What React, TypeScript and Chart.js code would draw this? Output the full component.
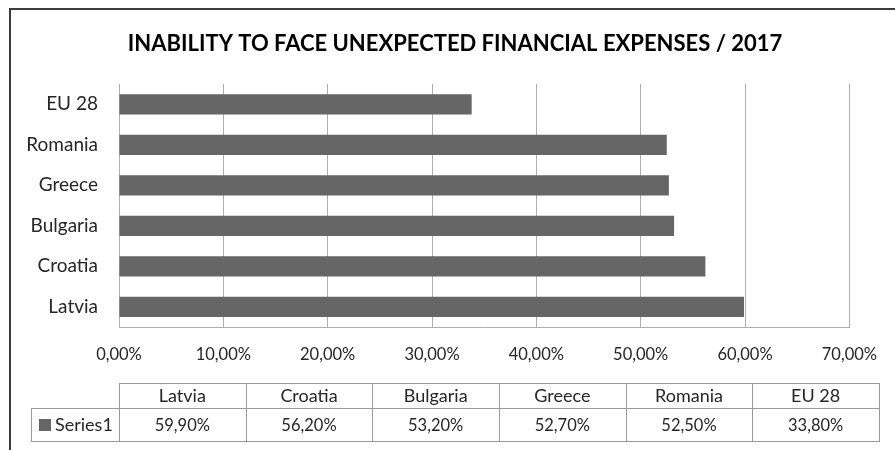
import React, { useEffect, useRef } from "react";
import { Chart, registerables } from "chart.js";

Chart.register(...registerables);

const categories = ["Latvia", "Croatia", "Bulgaria", "Greece", "Romania", "EU 28"];
const series1 = [59.9, 56.2, 53.2, 52.7, 52.5, 33.8];
const seriesName = "Series1";
const titleText = "INABILITY TO FACE UNEXPECTED FINANCIAL EXPENSES / 2017";
const axisMin = 0;
const axisMax = 70;
const axisStep = 10;

const FONT = "Lato, 'Open Sans', sans-serif";
const BAR = "#666666";
const GRID = "#aeaeae";
const TABLE_LINE = "#999999";
const TEXT = "#262626";

const fmt = (v: number) => v.toFixed(2).replace(".", ",") + "%";

const decorPlugin = {
  id: "decor",
  beforeDraw(chart: any) {
    const ctx = chart.ctx;
    ctx.save();
    ctx.fillStyle = "#3c3c3c";
    ctx.fillRect(9, 8, chart.width - 9, 2);
    ctx.fillRect(9, 8, 2, chart.height - 8);
    ctx.restore();
  },
  afterDraw(chart: any) {
    const ctx = chart.ctx;
    const labels: string[] = chart.data.labels;
    const ds = chart.data.datasets[0];
    ctx.save();
    // title
    ctx.fillStyle = "#000";
    ctx.font = `bold 22px ${FONT}`;
    ctx.textAlign = "center";
    ctx.textBaseline = "middle";
    ctx.fillText(titleText, 455, 44);

    // data table
    const left = chart.chartArea.left;
    const right = 879;
    const legendLeft = 31;
    const top = 383;
    const mid = 408;
    const bottom = 441;
    const n = labels.length;
    const cw = (right - left) / n;
    ctx.strokeStyle = TABLE_LINE;
    ctx.lineWidth = 1;
    ctx.beginPath();
    ctx.moveTo(left, top + 0.5);
    ctx.lineTo(right, top + 0.5);
    ctx.moveTo(legendLeft, mid + 0.5);
    ctx.lineTo(right, mid + 0.5);
    ctx.moveTo(legendLeft, bottom + 0.5);
    ctx.lineTo(right, bottom + 0.5);
    ctx.moveTo(legendLeft + 0.5, mid);
    ctx.lineTo(legendLeft + 0.5, bottom);
    for (let i = 0; i <= n; i++) {
      const x = Math.round(left + i * cw) + 0.5;
      ctx.moveTo(x, top);
      ctx.lineTo(x, bottom + 1);
    }
    ctx.stroke();

    ctx.fillStyle = TEXT;
    ctx.textAlign = "center";
    ctx.textBaseline = "middle";
    for (let i = 0; i < n; i++) {
      const cx = left + (i + 0.5) * cw;
      ctx.font = `18px ${FONT}`;
      ctx.fillText(labels[i], cx, (top + mid) / 2 + 1);
      ctx.font = `16.5px ${FONT}`;
      ctx.fillText(fmt(ds.data[i]), cx, (mid + bottom) / 2 + 1);
    }
    ctx.fillStyle = ds.backgroundColor;
    ctx.fillRect(39, 419, 12, 12);
    ctx.fillStyle = TEXT;
    ctx.textAlign = "left";
    ctx.font = `18px ${FONT}`;
    ctx.fillText(ds.label, 55, (mid + bottom) / 2 + 1);
    ctx.restore();
  },
};

export default function App() {
  const ref = useRef<HTMLCanvasElement | null>(null);
  useEffect(() => {
    if (!ref.current) return;
    const chart = new Chart(ref.current, {
      type: "bar",
      data: {
        labels: categories,
        datasets: [
          {
            label: seriesName,
            data: series1,
            backgroundColor: BAR,
            borderWidth: 0,
            categoryPercentage: 1,
            barPercentage: 0.5,
          },
        ],
      },
      options: {
        indexAxis: "y",
        animation: false,
        responsive: false,
        maintainAspectRatio: false,
        layout: { padding: { left: 0, right: 45, top: 84, bottom: 0 } },
        plugins: {
          legend: { display: false },
          title: { display: false },
          tooltip: { enabled: false },
        },
        scales: {
          x: {
            min: axisMin,
            max: axisMax,
            ticks: {
              stepSize: axisStep,
              callback: (v: any) => fmt(Number(v)),
              color: TEXT,
              font: { family: FONT, size: 16.5 },
              padding: 18,
              maxRotation: 0,
            },
            grid: { color: GRID, lineWidth: 1, drawTicks: false },
            border: { display: true, color: GRID, width: 1 },
            afterFit: (s: any) => {
              s.height = 123;
            },
          },
          y: {
            reverse: true,
            ticks: {
              color: TEXT,
              font: { family: FONT, size: 19 },
              padding: 21,
            },
            grid: { display: false, drawTicks: false },
            border: { display: false },
            afterFit: (s: any) => {
              s.width = 119;
            },
          },
        },
      },
      plugins: [decorPlugin],
    });
    return () => chart.destroy();
  }, []);
  return (
    <div style={{ position: "fixed", left: 0, top: 0, width: 895, height: 450, background: "#fff" }}>
      <canvas ref={ref} width={895} height={450} style={{ width: 895, height: 450, display: "block" }} />
    </div>
  );
}
